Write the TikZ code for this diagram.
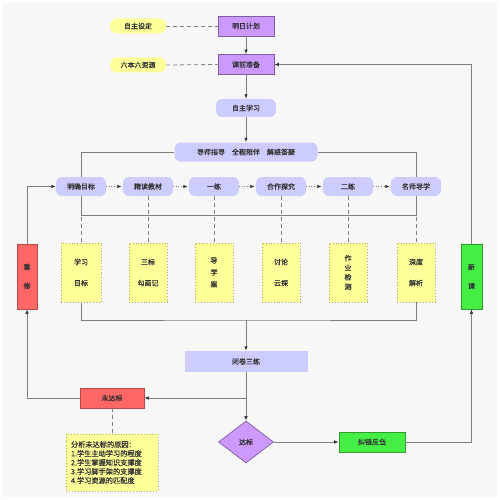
\documentclass[tikz,border=0pt]{standalone}
\usepackage{fontspec}
\newfontfamily\cjk{Noto Sans CJK SC}[FakeBold=0.6]
\usetikzlibrary{shapes.geometric,arrows.meta,backgrounds}
\definecolor{lnc}{HTML}{7F7F7F}
\definecolor{arrc}{HTML}{333333}
\definecolor{txc}{HTML}{333333}
\definecolor{bgc}{HTML}{F7F7F7}
\definecolor{purf}{HTML}{CC99FF}
\definecolor{purd}{HTML}{7E5E9E}
\definecolor{lavf}{HTML}{CCCCFF}
\definecolor{yelf}{HTML}{FFFF99}
\definecolor{yeld}{HTML}{A8A860}
\definecolor{redf}{HTML}{FF6666}
\definecolor{redd}{HTML}{B84A4A}
\definecolor{grnf}{HTML}{44EE44}
\definecolor{grnd}{HTML}{2E9E2E}
\tikzset{
  base/.style={font=\cjk\fontsize{7}{9}\selectfont, text=txc, inner sep=0pt, align=center},
  pbox/.style={base, rectangle, fill=purf, draw=purd, line width=0.7pt, minimum width=56pt, minimum height=20pt},
  ypill/.style={base, rectangle, rounded corners=7pt, fill=yelf, minimum width=56pt, minimum height=15pt},
  lpill/.style={base, rectangle, rounded corners=6pt, fill=lavf, minimum height=19pt},
  ybox/.style={base, rectangle, fill=yelf, draw=yeld, line width=0.9pt, dotted, minimum width=38pt, minimum height=59pt},
  rbox/.style={base, rectangle, fill=redf, draw=redd, line width=0.7pt},
  gbox/.style={base, rectangle, fill=grnf, draw=grnd, line width=0.7pt},
  ln/.style={draw=lnc, line width=0.8pt},
  arr/.style={ln, -{Latex[length=4.5pt,width=3.5pt,color=arrc]}},
  dsh/.style={ln, dash pattern=on 4pt off 3pt},
  dotarr/.style={arr, dash pattern=on 1pt off 1.6pt, shorten >=1pt},
}
\begin{document}
\begin{tikzpicture}[x=1pt,y=-1pt]
\useasboundingbox (0,0) rectangle (500,500);
\begin{scope}[on background layer]
  \fill[white] (0,0) rectangle (500,500);
  \fill[bgc] (3,3) rectangle (497,497);
\end{scope}
% top
\node[ypill] (zzsd) at (138,26) {自主设定};
\node[pbox] (mrjh) at (246,26) {明日计划};
\node[ypill] (lbl) at (138,65) {六本六资源};
\node[pbox] (kqzb) at (246,64.5) {课前准备};
\node[lpill, minimum width=60pt, minimum height=18pt] (zzxx) at (246,108) {自主学习};
\node[lpill, minimum width=143pt] (dszd) at (246,152) {导师指导\hspace{7pt}全程陪伴\hspace{7pt}解惑答疑};
% row of steps
\node[lpill, minimum width=50pt] (a1) at (81,186.5) {明确目标};
\node[lpill, minimum width=50pt] (a2) at (148,186.5) {精读教材};
\node[lpill, minimum width=50pt] (a3) at (214,186.5) {一练};
\node[lpill, minimum width=50pt] (a4) at (281,186.5) {合作探究};
\node[lpill, minimum width=50pt] (a5) at (348,186.5) {二练};
\node[lpill, minimum width=50pt] (a6) at (416,186.5) {名师导学};
% yellow boxes
\node[ybox, minimum width=40pt] (b1) at (81,272.5) {学习\\[12pt]目标};
\node[ybox] (b2) at (148,272.5) {三标\\[12pt]勾画记};
\node[ybox] (b3) at (214,272.5) {导\\[3pt]学\\[3pt]案};
\node[ybox] (b4) at (281,272.5) {讨论\\[12pt]云探};
\node[ybox] (b5) at (348,272.5) {作\\[0.5pt]业\\[0.5pt]检\\[0.5pt]测};
\node[ybox] (b6) at (416,272.5) {深度\\[12pt]解析};
% side boxes
\node[rbox, minimum width=20pt, minimum height=65pt] (cx) at (27,276.5) {重\\[10pt]修};
\node[gbox, minimum width=21pt, minimum height=65pt] (xk) at (471.5,276.5) {新\\[10pt]课};
% bottom
\node[base, rectangle, fill=lavf, minimum width=123pt, minimum height=21pt] (bjsl) at (246,361.5) {闭卷三练};
\node[rbox, minimum width=64pt, minimum height=20pt] (wdb) at (112,398) {未达标};
\node[base, rectangle, fill=yelf, draw=yeld, line width=0.9pt, dotted, align=left,
      text width=82pt, inner xsep=5pt, minimum height=57pt,
      font=\cjk\fontsize{7.2}{9}\selectfont] (fx) at (112,462.5)
  {分析未达标的原因：\\1.学生主动学习的程度\\2.学生掌握知识支撑度\\3.学习脚手架的支撑度\\4.学习资源的匹配度};
\node[base, diamond, aspect=1.3, fill=purf, draw=purd, line width=0.7pt, minimum width=55pt, minimum height=42pt] (db) at (246,442) {达标};
\node[gbox, minimum width=66pt, minimum height=20pt] (jcfc) at (372,442) {纠错反刍};
% helper coordinates
\coordinate (h1) at (81,215);
\coordinate (h2) at (416,215);
\coordinate (mid) at (246,320);
\coordinate (br) at (246,398);
\begin{scope}[on background layer]
  \draw[dsh] (zzsd.east) -- (mrjh.west);
  \draw[dsh] (lbl.east) -- (kqzb.west);
  \draw[ln] (dszd.west) -| (h1) -- (h2) |- (dszd.east);
  \foreach \i in {1,...,6} \draw[dsh] (a\i.south) -- (b\i.north);
  \draw[ln] (b1.south) |- (mid) -| (b6.south);
\end{scope}
\draw[arr] (mrjh) -- (kqzb);
\draw[arr] (kqzb) -- (zzxx);
\draw[arr] (zzxx) -- (dszd);
\draw[dotarr] (a1.east) -- (a2.west);
\draw[dotarr] (a2.east) -- (a3.west);
\draw[dotarr] (a3.east) -- (a4.west);
\draw[dotarr] (a4.east) -- (a5.west);
\draw[dotarr] (a5.east) -- (a6.west);
\draw[arr] (mid) -- (bjsl.north);
\draw[arr] (bjsl.south) -- (db.north);
\draw[arr] (br) -- (wdb.east);
\draw[arr] (wdb.west) -| (cx.south);
\draw[dsh] (wdb.south) -- (fx.north);
\draw[arr] (db.east) -- (jcfc.west);
\draw[arr] (jcfc.east) -| (xk.south);
\draw[arr] (xk.north) |- (kqzb.east);
\draw[arr] (cx.north) |- (a1.west);
\end{tikzpicture}
\end{document}
